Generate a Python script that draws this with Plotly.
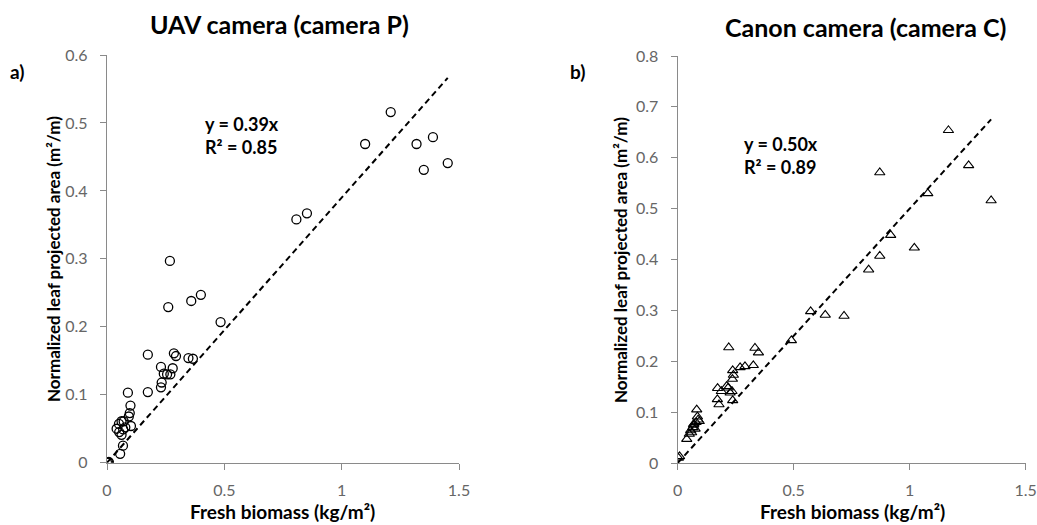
import plotly.graph_objects as go

# ---- data ----
titles = ["UAV camera (camera P)", "Canon camera (camera C)"]
panel_labels = ["a)", "b)"]
slopes = [0.39, 0.50]
r2 = [0.85, 0.89]

xs_P = [0.0, 0.005, 0.008, 0.056, 0.068, 0.041, 0.051, 0.062, 0.071, 0.052, 0.069, 0.078, 0.102, 0.062,
        0.093, 0.097, 0.100, 0.089, 0.174, 0.174, 0.230, 0.233, 0.230, 0.242, 0.256, 0.270, 0.280, 0.285,
        0.294, 0.261, 0.268, 0.347, 0.366, 0.359, 0.400, 0.484, 0.807, 0.852, 1.100, 1.209, 1.319, 1.389,
        1.350, 1.452]
ys_P = [0.0, 0.0, 0.001, 0.013, 0.025, 0.050, 0.057, 0.061, 0.061, 0.045, 0.049, 0.052, 0.054, 0.041,
        0.068, 0.073, 0.084, 0.103, 0.104, 0.159, 0.111, 0.118, 0.141, 0.131, 0.130, 0.130, 0.139, 0.161,
        0.157, 0.229, 0.297, 0.154, 0.153, 0.238, 0.247, 0.207, 0.358, 0.367, 0.469, 0.516, 0.469, 0.479,
        0.431, 0.441]

xs_C = [0.003, 0.008, 0.039, 0.050, 0.056, 0.060, 0.065, 0.068, 0.070, 0.075, 0.079, 0.082, 0.085, 0.088,
        0.093, 0.171, 0.172, 0.178, 0.188, 0.211, 0.218, 0.220, 0.226, 0.234, 0.236, 0.237, 0.237, 0.240,
        0.269, 0.290, 0.326, 0.333, 0.348, 0.490, 0.573, 0.636, 0.717, 0.823, 0.871, 0.871, 0.918, 1.020,
        1.078, 1.167, 1.254, 1.351]
ys_C = [0.010, 0.013, 0.047, 0.057, 0.064, 0.060, 0.070, 0.075, 0.077, 0.067, 0.080, 0.105, 0.091, 0.085,
        0.082, 0.125, 0.147, 0.115, 0.141, 0.151, 0.148, 0.227, 0.138, 0.141, 0.165, 0.182, 0.123, 0.173,
        0.188, 0.190, 0.192, 0.226, 0.217, 0.241, 0.298, 0.291, 0.289, 0.380, 0.571, 0.407, 0.448, 0.423,
        0.530, 0.654, 0.585, 0.516]

x_ticks = [0, 0.5, 1, 1.5]
x_ticktext = ["0", "0.5", "1", "1.5"]
y_ticks_P = [0, 0.1, 0.2, 0.3, 0.4, 0.5, 0.6]
y_ticks_C = [0, 0.1, 0.2, 0.3, 0.4, 0.5, 0.6, 0.7, 0.8]

FONT = "Lato"
AXIS_GREY = "#8a8a8a"
TICK_GREY = "#666666"
W, H = 1037, 525


def px(sx):
    return sx / W


def py(sy):
    return 1 - sy / H


fig = go.Figure()

fig.add_trace(go.Scatter(x=xs_P, y=ys_P, mode="markers", xaxis="x", yaxis="y",
                         marker=dict(symbol="circle-open", size=9, color="black", line=dict(width=1.3)),
                         showlegend=False))
fig.add_trace(go.Scatter(x=xs_C, y=ys_C, mode="markers", xaxis="x2", yaxis="y2",
                         marker=dict(symbol="triangle-up-open", size=9, color="black", line=dict(width=1.1)),
                         showlegend=False))

for xs, s, xa, ya in [(xs_P, slopes[0], "x", "y"), (xs_C, slopes[1], "x2", "y2")]:
    xe = max(xs)
    fig.add_trace(go.Scatter(x=[0, xe], y=[0, s * xe], mode="lines", xaxis=xa, yaxis=ya,
                             line=dict(color="black", width=2, dash="6px,4px"), showlegend=False))

common_x = dict(range=[0, 1.5], tickvals=x_ticks, ticktext=x_ticktext, showgrid=False, zeroline=False,
                showline=True, linecolor=AXIS_GREY, linewidth=1.3, ticks="outside", ticklen=6,
                tickcolor=AXIS_GREY, ticklabelstandoff=7,
                tickfont=dict(family=FONT, size=16, color=TICK_GREY))
common_y = dict(showgrid=False, zeroline=False, showline=True, linecolor=AXIS_GREY, linewidth=1.3,
                ticks="outside", ticklen=6, tickcolor=AXIS_GREY, ticklabelstandoff=9,
                tickfont=dict(family=FONT, size=16, color=TICK_GREY))

fig.update_layout(
    width=W, height=H,
    margin=dict(l=0, r=0, t=0, b=0, autoexpand=False),
    paper_bgcolor="white", plot_bgcolor="white",
    xaxis=dict(domain=[px(107), px(459)], anchor="y", **common_x),
    yaxis=dict(domain=[py(462.7), py(55)], anchor="x", range=[0, 0.6], tickvals=y_ticks_P,
               ticktext=[("%g" % v) for v in y_ticks_P], **common_y),
    xaxis2=dict(domain=[px(677.7), px(1025.7)], anchor="y2", **common_x),
    yaxis2=dict(domain=[py(463), py(56)], anchor="x2", range=[0, 0.8], tickvals=y_ticks_C,
                ticktext=[("%g" % v) for v in y_ticks_C], **common_y),
)

ann = []
bold = dict(family=FONT, color="black")
ann.append(dict(x=px(279.5), y=py(24), text="<b>%s</b>" % titles[0], font=dict(size=25, **bold)))
ann.append(dict(x=px(865.5), y=py(27), text="<b>%s</b>" % titles[1], font=dict(size=25, **bold)))
ann.append(dict(x=px(17), y=py(72), text="<b>%s</b>" % panel_labels[0], font=dict(size=19, **bold)))
ann.append(dict(x=px(577), y=py(72), text="<b>%s</b>" % panel_labels[1], font=dict(size=19, **bold)))
ytitle = "<b>Normalized leaf projected area (m²/m)</b>"
ann.append(dict(x=px(53), y=py(259), text=ytitle, textangle=-90, font=dict(size=17, **bold)))
ann.append(dict(x=px(620), y=py(260), text=ytitle, textangle=-90, font=dict(size=17, **bold)))
xtitle = "<b>Fresh biomass (kg/m²)</b>"
ann.append(dict(x=px(282.5), y=0, yanchor="bottom", text=xtitle, font=dict(size=19, **bold)))
ann.append(dict(x=px(852), y=0, yanchor="bottom", text=xtitle, font=dict(size=19, **bold)))
ann.append(dict(x=px(203), y=py(135.5), xanchor="left",
                text="<b>y = %.2fx<br>R² = %.2f</b>" % (slopes[0], r2[0]), align="left",
                font=dict(size=18, **bold)))
ann.append(dict(x=px(742), y=py(155), xanchor="left",
                text="<b>y = %.2fx<br>R² = %.2f</b>" % (slopes[1], r2[1]), align="left",
                font=dict(size=18, **bold)))

for a in ann:
    a.setdefault("xanchor", "center")
    a.setdefault("yanchor", "middle")
    a.update(xref="paper", yref="paper", showarrow=False)
fig.update_layout(annotations=ann)

# remove the browser's default 8px body margin so the figure fills the window exactly
fig.write_html("out.html", config={"displayModeBar": False},
               post_script="document.body.style.margin='0';")
